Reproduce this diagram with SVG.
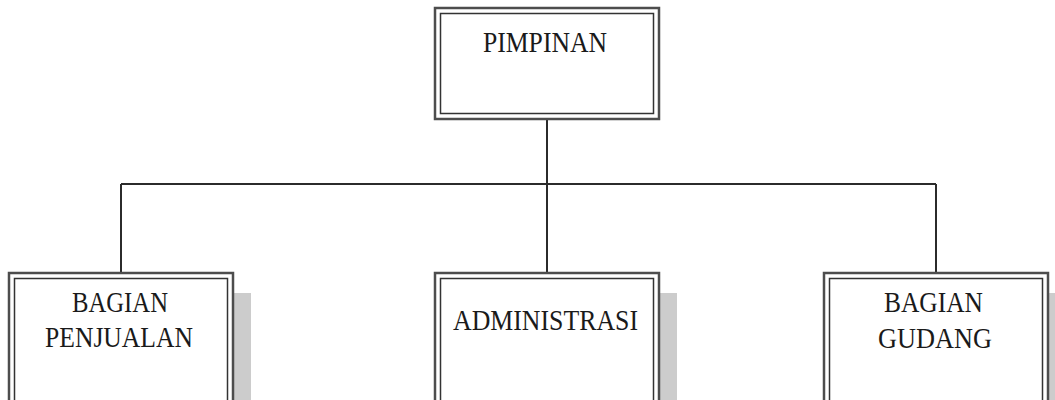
<svg xmlns="http://www.w3.org/2000/svg" width="1055" height="400" viewBox="0 0 1055 400">
  <style>
    .shadow { fill: #cccccc; stroke: none; }
    .outer { fill: #ffffff; stroke: #4d4d4d; stroke-width: 2.5; }
    .inner { fill: #ffffff; stroke: #333333; stroke-width: 1.5; }
    .label { font-family: "Liberation Serif", "Times New Roman", serif; font-size: 30px; fill: #1a1a1a; text-anchor: middle; }
    .wire { fill: none; stroke: #2b2b2b; stroke-width: 2; }
  </style>
  <rect width="1055" height="400" fill="#ffffff"/>

  <!-- connectors -->
  <g id="connectors" class="wire">
    <line x1="547" y1="119" x2="547" y2="273"/>
    <line x1="121" y1="184" x2="936" y2="184"/>
    <line x1="121" y1="184" x2="121" y2="273"/>
    <line x1="936" y1="184" x2="936" y2="273"/>
  </g>

  <g id="pimpinan">
    <rect class="outer" x="435" y="8" width="224" height="111"/>
    <rect class="inner" x="440.5" y="13.5" width="213" height="100"/>
    <text class="label" x="545" y="52" textLength="124" lengthAdjust="spacingAndGlyphs">PIMPINAN</text>
  </g>

  <g id="bagian-penjualan">
    <rect class="shadow" x="27" y="293" width="224" height="120"/>
    <rect class="outer" x="9" y="273" width="224" height="140"/>
    <rect class="inner" x="14.5" y="278.5" width="213" height="140"/>
    <text class="label" x="120" y="312" textLength="96" lengthAdjust="spacingAndGlyphs">BAGIAN</text>
    <text class="label" x="119" y="347" textLength="148" lengthAdjust="spacingAndGlyphs">PENJUALAN</text>
  </g>

  <g id="administrasi">
    <rect class="shadow" x="453" y="293" width="224" height="120"/>
    <rect class="outer" x="435" y="273" width="224" height="140"/>
    <rect class="inner" x="440.5" y="278.5" width="213" height="140"/>
    <text class="label" x="545.5" y="330" textLength="185" lengthAdjust="spacingAndGlyphs">ADMINISTRASI</text>
  </g>

  <g id="bagian-gudang">
    <rect class="shadow" x="842" y="293" width="224" height="120"/>
    <rect class="outer" x="824" y="273" width="224" height="140"/>
    <rect class="inner" x="829.5" y="278.5" width="213" height="140"/>
    <text class="label" x="933.5" y="312" textLength="99" lengthAdjust="spacingAndGlyphs">BAGIAN</text>
    <text class="label" x="935" y="348" textLength="114" lengthAdjust="spacingAndGlyphs">GUDANG</text>
  </g>
</svg>
